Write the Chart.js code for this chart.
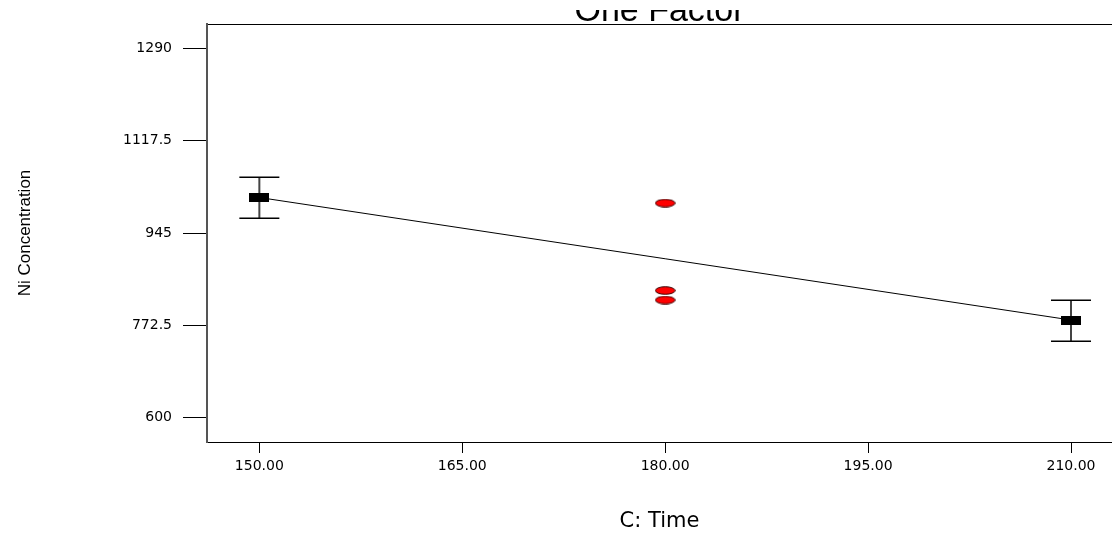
<!DOCTYPE html>
<html>
<head>
<meta charset="utf-8">
<script src="https://cdn.jsdelivr.net/npm/chart.js@4"></script>
<style>
  body { margin: 0; background: #fff; overflow: hidden; }
  canvas { display: block; }
</style>
</head>
<body>
<canvas id="chart" width="1112" height="535"></canvas>
<script>
// tick marks on each axis
const xTicks = [150, 165, 180, 195, 210];
const yTicks = [600, 772.5, 945, 1117.5, 1290];

// factor levels with predicted means and their interval ends
const levels = [150, 210];
const means = [1011.4, 782.2];
const ciLow = [972.5, 742.4];
const ciHigh = [1049.2, 819.1];

// center point runs
const obsTime = [180, 180, 180];
const obsConc = [1001, 837.4, 819.6];

// visible axis window
const xMin = 146.13, xMax = 213.03;
const yMin = 554, yMax = 1336;

function rectMarker(w, h) {
  const c = document.createElement("canvas");
  c.width = w; c.height = h;
  const g = c.getContext("2d");
  g.fillStyle = "#000";
  g.fillRect(0, 0, w, h);
  return c;
}

function ellipseMarker(w, h) {
  const c = document.createElement("canvas");
  c.width = w; c.height = h;
  const g = c.getContext("2d");
  g.beginPath();
  g.ellipse(w / 2, h / 2, w / 2 - 0.7, h / 2 - 0.7, 0, 0, Math.PI * 2);
  g.fillStyle = "#ff0000";
  g.fill();
  g.lineWidth = 1;
  g.strokeStyle = "#3a0000";
  g.stroke();
  return c;
}

// error bars drawn under the mean markers
const errorBars = {
  id: "errorBars",
  beforeDatasetsDraw(chart) {
    const ctx = chart.ctx;
    const xs = chart.scales.x, ys = chart.scales.y;
    ctx.save();
    levels.forEach((lv, i) => {
      const px = xs.getPixelForValue(lv);
      const top = ys.getPixelForValue(ciHigh[i]);
      const bot = ys.getPixelForValue(ciLow[i]);
      ctx.strokeStyle = "#444";
      ctx.lineWidth = 2;
      ctx.beginPath();
      ctx.moveTo(px, top);
      ctx.lineTo(px, bot);
      ctx.stroke();
      ctx.strokeStyle = "#000";
      ctx.lineWidth = 1.5;
      ctx.beginPath();
      ctx.moveTo(px - 20, top); ctx.lineTo(px + 20, top);
      ctx.moveTo(px - 20, bot); ctx.lineTo(px + 20, bot);
      ctx.stroke();
    });
    ctx.restore();
  }
};

// title sits mostly above the picture, only its lower part shows
const cutTitle = {
  id: "cutTitle",
  afterDraw(chart) {
    const ctx = chart.ctx;
    const a = chart.chartArea;
    ctx.save();
    ctx.beginPath();
    ctx.rect(0, 10, chart.width, a.top - 10);
    ctx.clip();
    ctx.fillStyle = "#000";
    ctx.font = "34px 'Liberation Sans', Arial, sans-serif";
    ctx.textAlign = "center";
    ctx.textBaseline = "alphabetic";
    ctx.fillText("One Factor", (a.left + a.right) / 2, 21);
    ctx.restore();
  }
};

const ctx = document.getElementById("chart").getContext("2d");

new Chart(ctx, {
  type: "scatter",
  data: {
    datasets: [
      {
        type: "line",
        label: "fit",
        data: levels.map((x, i) => ({ x, y: means[i] })),
        showLine: true,
        borderColor: "#000",
        borderWidth: 1,
        pointRadius: 0,
        fill: false
      },
      {
        label: "means",
        data: levels.map((x, i) => ({ x, y: means[i] })),
        pointStyle: rectMarker(20, 9),
        pointRadius: 6
      },
      {
        label: "runs",
        data: obsTime.map((x, i) => ({ x, y: obsConc[i] })),
        pointStyle: ellipseMarker(21, 9),
        pointRadius: 6
      }
    ]
  },
  options: {
    responsive: false,
    devicePixelRatio: 1,
    animation: false,
    layout: { padding: 0, autoPadding: false },
    plugins: {
      legend: { display: false },
      tooltip: { enabled: false },
      title: { display: false }
    },
    scales: {
      x: {
        type: "linear",
        position: "bottom",
        min: xMin,
        max: xMax,
        afterBuildTicks: s => { s.ticks = xTicks.map(v => ({ value: v })); },
        afterFit: s => { s.height = 93; s.paddingLeft = 0; s.paddingRight = 0; },
        ticks: {
          color: "#000",
          padding: 5,
          maxRotation: 0,
          font: { family: "'DejaVu Sans', sans-serif", size: 14 },
          callback: v => Number(v).toFixed(2)
        },
        grid: { drawOnChartArea: false, tickLength: 11, color: "#000", lineWidth: 1 },
        border: { color: "#000", width: 1 },
        title: {
          display: true,
          text: "C: Time",
          color: "#000",
          font: { family: "'DejaVu Sans', sans-serif", size: 21 },
          padding: { top: 0, bottom: 1 }
        }
      },
      x2: {
        type: "linear",
        position: "top",
        min: xMin,
        max: xMax,
        afterFit: s => { s.height = 24; s.paddingLeft = 0; s.paddingRight = 0; },
        ticks: { display: false },
        grid: { display: false },
        border: { color: "#000", width: 1 }
      },
      y: {
        type: "linear",
        position: "left",
        min: yMin,
        max: yMax,
        afterBuildTicks: s => { s.ticks = yTicks.map(v => ({ value: v })); },
        afterFit: s => { s.width = 207; },
        ticks: {
          color: "#000",
          padding: 11,
          font: { family: "'DejaVu Sans', sans-serif", size: 14 },
          callback: v => String(v)
        },
        grid: { drawOnChartArea: false, tickLength: 24, color: "#000", lineWidth: 1 },
        border: { color: "#555", width: 2 },
        title: {
          display: true,
          text: "Ni Concentration",
          color: "#000",
          font: { family: "'Liberation Sans', Arial, sans-serif", size: 17 },
          padding: { top: 15, bottom: 0 }
        }
      }
    }
  },
  plugins: [errorBars, cutTitle]
});
</script>
</body>
</html>
